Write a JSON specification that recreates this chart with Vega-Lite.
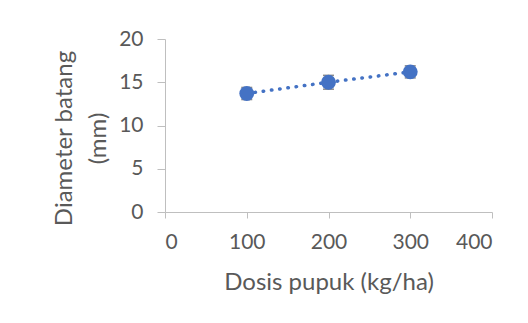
{
  "$schema": "https://vega.github.io/schema/vega-lite/v6.json",
  "autosize": {"type": "none"},
  "width": 327,
  "height": 173,
  "padding": {"left": 165, "top": 39, "right": 36, "bottom": 111},
  "background": "white",
  "config": {
    "view": {"stroke": null},
    "font": "Lato",
    "axis": {
      "labelFont": "Lato",
      "titleFont": "Lato",
      "labelColor": "#595959",
      "titleColor": "#595959",
      "labelFontSize": 21,
      "titleFontSize": 24,
      "titleFontWeight": "normal",
      "domainColor": "#BFBFBF",
      "tickColor": "#BFBFBF",
      "grid": false
    }
  },
  "data": {
    "values": [
      {"dosis": 100, "diameter": 13.7, "lo": 13.0, "hi": 14.4},
      {"dosis": 200, "diameter": 15.0, "lo": 14.2, "hi": 15.8},
      {"dosis": 300, "diameter": 16.2, "lo": 15.5, "hi": 16.9}
    ]
  },
  "encoding": {
    "x": {
      "field": "dosis",
      "type": "quantitative",
      "scale": {"domain": [0, 400], "nice": false},
      "axis": {
        "values": [0, 100, 200, 300, 400],
        "title": "Dosis pupuk (kg/ha)",
        "tickSize": 6,
        "labelPadding": 13,
        "titleBaseline": "middle",
        "titleY": 70
      }
    }
  },
  "layer": [
    {
      "mark": {"type": "line", "color": "#4472C4", "strokeWidth": 3.5, "strokeDash": [0.5, 7.8], "strokeCap": "round"},
      "encoding": {
        "y": {
          "field": "diameter",
          "type": "quantitative",
          "scale": {"domain": [0, 20], "nice": false},
          "axis": {
            "values": [0, 5, 10, 15, 20],
            "title": ["Diameter batang", "(mm)"],
            "tickSize": 8,
            "labelPadding": 14,
            "titleAngle": -90,
            "titleAlign": "center",
            "titleBaseline": "middle",
            "titleLineHeight": 34,
            "titleX": -101,
            "titleY": 99
          }
        }
      }
    },
    {
      "mark": {"type": "rule", "color": "#595959", "strokeWidth": 1.5},
      "encoding": {
        "y": {"field": "lo", "type": "quantitative"},
        "y2": {"field": "hi"}
      }
    },
    {
      "mark": {"type": "tick", "color": "#595959", "orient": "horizontal", "size": 11, "thickness": 1.5},
      "encoding": {"y": {"field": "lo", "type": "quantitative"}}
    },
    {
      "mark": {"type": "tick", "color": "#595959", "orient": "horizontal", "size": 11, "thickness": 1.5},
      "encoding": {"y": {"field": "hi", "type": "quantitative"}}
    },
    {
      "mark": {"type": "point", "shape": "circle", "filled": true, "color": "#4472C4", "size": 220, "opacity": 1},
      "encoding": {"y": {"field": "diameter", "type": "quantitative"}}
    }
  ]
}
